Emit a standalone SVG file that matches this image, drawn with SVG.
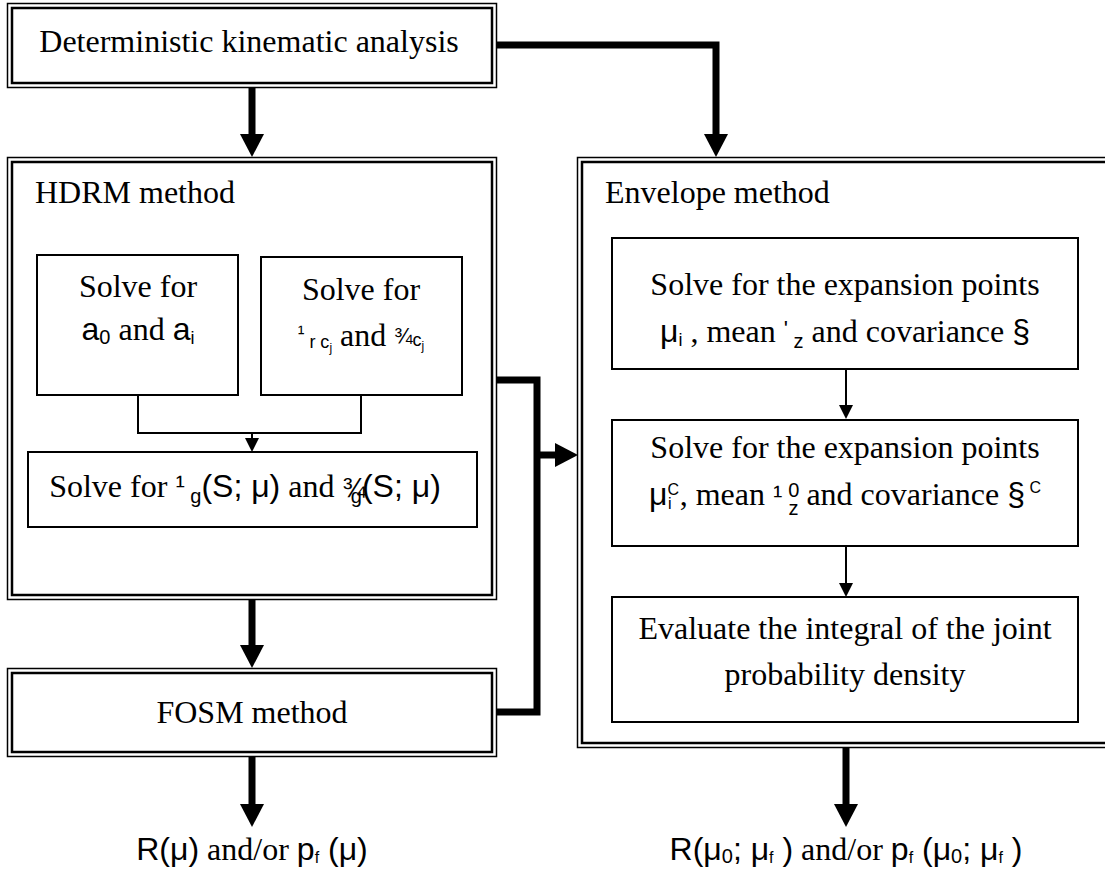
<svg xmlns="http://www.w3.org/2000/svg" width="1105" height="869" viewBox="0 0 1105 869">
<style>
.o{fill:none;stroke:#000;stroke-width:1.5}
.i{fill:none;stroke:#000;stroke-width:2.5}
.b{fill:#fff;stroke:#000;stroke-width:2}
.t{font-family:"Liberation Serif","Times New Roman",serif;font-size:32px;fill:#000}
.s{font-family:"Liberation Sans",Arial,sans-serif}
.thick{fill:none;stroke:#000;stroke-width:7}
.thin{fill:none;stroke:#000;stroke-width:2}
</style>
<defs>
<marker id="ah" markerUnits="userSpaceOnUse" markerWidth="23" markerHeight="24" refX="0" refY="12" orient="auto"><path d="M0,0 L23,12 L0,24 z" fill="#000"/></marker>
<marker id="as" markerUnits="userSpaceOnUse" markerWidth="14" markerHeight="14" refX="0" refY="7" orient="auto"><path d="M0,0 L14,7 L0,14 z" fill="#000"/></marker>
</defs>
<rect width="1105" height="869" fill="#fff"/>

<g id="connectors">
<path class="thick" d="M252,88 V134" marker-end="url(#ah)"/>
<path class="thick" d="M497,45 H716 V134" marker-end="url(#ah)"/>
<path class="thick" d="M252,600 V645" marker-end="url(#ah)"/>
<path class="thick" d="M252,757 V804" marker-end="url(#ah)"/>
<path class="thick" d="M846,748 V804" marker-end="url(#ah)"/>
<path class="thick" d="M497,380 H537 V712 H497"/>
<path class="thick" d="M537,455 H555" marker-end="url(#ah)"/>
<path class="thin" d="M138,395 V433 H361 V395"/>
<path class="thin" d="M252,433 V438" marker-end="url(#as)"/>
<path class="thin" d="M846,369 V405" marker-end="url(#as)"/>
<path class="thin" d="M846,546 V583" marker-end="url(#as)"/>
</g>

<g id="top">
<rect class="o" x="7.5" y="3.5" width="489" height="84"/>
<rect class="i" x="12" y="8" width="480" height="75"/>
<text class="t" x="249" y="52" text-anchor="middle">Deterministic kinematic analysis</text>
</g>

<g id="hdrm">
<rect class="o" x="7.5" y="157.5" width="489" height="442"/>
<rect class="i" x="12" y="162" width="480" height="433"/>
<text class="t" x="35" y="203">HDRM method</text>
</g>

<g id="boxA">
<rect class="b" x="37" y="255" width="201" height="140"/>
<text class="t" x="138" y="297" text-anchor="middle">Solve for</text>
<text class="t" x="138" y="340" text-anchor="middle"><tspan class="s">a</tspan><tspan class="s" font-size="20" dy="4">0</tspan><tspan dy="-4"> and </tspan><tspan class="s">a</tspan><tspan class="s" font-size="18" dy="4">i</tspan></text>
</g>

<g id="boxB">
<rect class="b" x="261" y="257" width="201" height="138"/>
<text class="t" x="361" y="300" text-anchor="middle">Solve for</text>
<text class="t" x="361" y="346" text-anchor="middle"><tspan class="s" font-size="20" dy="-6">¹</tspan><tspan class="s" font-size="18" dy="8"> r c</tspan><tspan class="s" font-size="12" dy="4">j</tspan><tspan dy="-6">  and </tspan><tspan class="s" font-size="22" dy="-2">¾</tspan><tspan class="s" font-size="18" dy="2">c</tspan><tspan class="s" font-size="12" dy="4">j</tspan></text>
</g>

<g id="boxC">
<rect class="b" x="28" y="452" width="449" height="75"/>
<text class="t" x="245" y="497" text-anchor="middle">Solve for <tspan class="s" font-size="28" dy="-2">¹</tspan><tspan class="s" font-size="20" dy="8"> g</tspan><tspan class="s" dy="-6">(S; μ)</tspan> and <tspan class="s" font-size="28">¾</tspan><tspan class="s" font-size="20" dx="-15" dy="6">g</tspan><tspan class="s" dy="-6">(S; μ)</tspan></text>
</g>

<g id="fosm">
<rect class="o" x="7.5" y="668.5" width="489" height="88"/>
<rect class="i" x="12" y="673" width="480" height="79"/>
<text class="t" x="252" y="723" text-anchor="middle">FOSM method</text>
</g>

<g id="envelope">
<rect class="o" x="577.5" y="157.5" width="540" height="590"/>
<rect class="i" x="582" y="162" width="540" height="581"/>
<text class="t" x="605" y="203">Envelope method</text>
</g>

<g id="e1">
<rect class="b" x="612" y="238" width="466" height="131"/>
<text class="t" x="845" y="295" text-anchor="middle">Solve for the expansion points</text>
<text class="t" x="845" y="342" text-anchor="middle"><tspan class="s">μ</tspan><tspan class="s" font-size="18" dy="4">i</tspan><tspan dy="-4"> , mean </tspan><tspan class="s" font-size="22" dy="-6">'</tspan><tspan class="s" font-size="20" dy="12"> z</tspan><tspan dy="-6"> and covariance </tspan><tspan class="s">§</tspan></text>
</g>

<g id="e2">
<rect class="b" x="612" y="420" width="466" height="126"/>
<text class="t" x="845" y="458" text-anchor="middle">Solve for the expansion points</text>
<text class="t" x="845" y="505" text-anchor="middle"><tspan class="s">μ</tspan><tspan class="s" font-size="16" dy="-10">C</tspan><tspan class="s" font-size="16" dx="-11" dy="14">i</tspan><tspan dy="-4"> , mean </tspan><tspan class="s" font-size="28">¹</tspan><tspan class="s" font-size="20" dx="6" dy="-8">0</tspan><tspan class="s" font-size="20" dx="-11" dy="18">z</tspan><tspan dy="-10"> and covariance </tspan><tspan class="s">§</tspan><tspan class="s" font-size="16" dy="-12"> C</tspan></text>
</g>

<g id="e3">
<rect class="b" x="612" y="597" width="466" height="125"/>
<text class="t" x="845" y="639" text-anchor="middle">Evaluate the integral of the joint</text>
<text class="t" x="845" y="685" text-anchor="middle">probability density</text>
</g>

<g id="out1">
<text class="t" x="252" y="860" text-anchor="middle"><tspan class="s">R(μ)</tspan> and/or <tspan class="s">p</tspan><tspan class="s" font-size="16" dy="3">f</tspan><tspan class="s" dy="-3"> (μ)</tspan></text>
</g>

<g id="out2">
<text class="t" x="846" y="860" text-anchor="middle"><tspan class="s">R(μ</tspan><tspan class="s" font-size="20" dy="3">0</tspan><tspan class="s" dy="-3">; μ</tspan><tspan class="s" font-size="16" dy="3">f</tspan><tspan class="s" dy="-3"> )</tspan> and/or <tspan class="s">p</tspan><tspan class="s" font-size="16" dy="3">f</tspan><tspan class="s" dy="-3"> (μ</tspan><tspan class="s" font-size="20" dy="3">0</tspan><tspan class="s" dy="-3">; μ</tspan><tspan class="s" font-size="16" dy="3">f</tspan><tspan class="s" dy="-3"> )</tspan></text>
</g>
</svg>
